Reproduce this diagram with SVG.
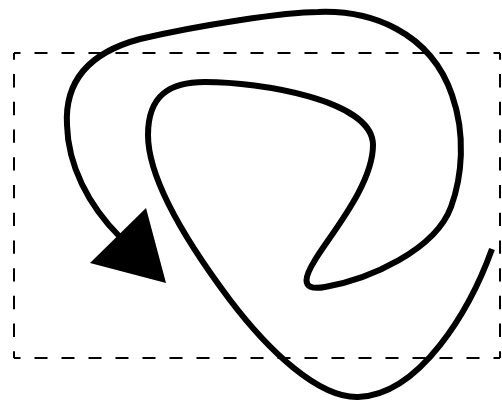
<svg xmlns="http://www.w3.org/2000/svg" width="502" height="407" viewBox="0 0 502 407">
  <style>
    .dash { stroke: #000; stroke-width: 2; fill: none; stroke-dasharray: 13 14; stroke-dashoffset: 6.5; }
    .curve { stroke: #000; stroke-width: 6; fill: none; stroke-linecap: butt; stroke-linejoin: round; }
    .head { fill: #000; stroke: none; }
  </style>
  <rect width="502" height="407" fill="#fff"/>
  <g id="frame">
    <line class="dash" x1="14" y1="53" x2="500" y2="53" pathLength="486"/>
    <line class="dash" x1="500" y1="53" x2="500" y2="358" pathLength="297"/>
    <line class="dash" x1="500" y1="358" x2="14" y2="358" pathLength="486"/>
    <line class="dash" x1="14" y1="358" x2="14" y2="53" pathLength="297"/>
  </g>
  <g id="connectors">
    <path class="curve" d="M 492 249 C 470 310 420 395 358 397 C 318 398 268 350 230 300 C 200 260 148 185 148 135 C 148 95 170 82 205 82 C 260 82 373 100 373 145 C 373 185 330 235 315 260 C 307 273 297 292 325 287 C 370 279 435 250 451 207 C 462 177 466 135 452 95 C 430 31 370 10 318 12 C 285 12 200 25 140 39 C 80 55 65 90 67 125 C 68 165 88 205 120 237"/>
    <polygon class="head" points="90,263 146,208 166,283"/>
  </g>
</svg>
